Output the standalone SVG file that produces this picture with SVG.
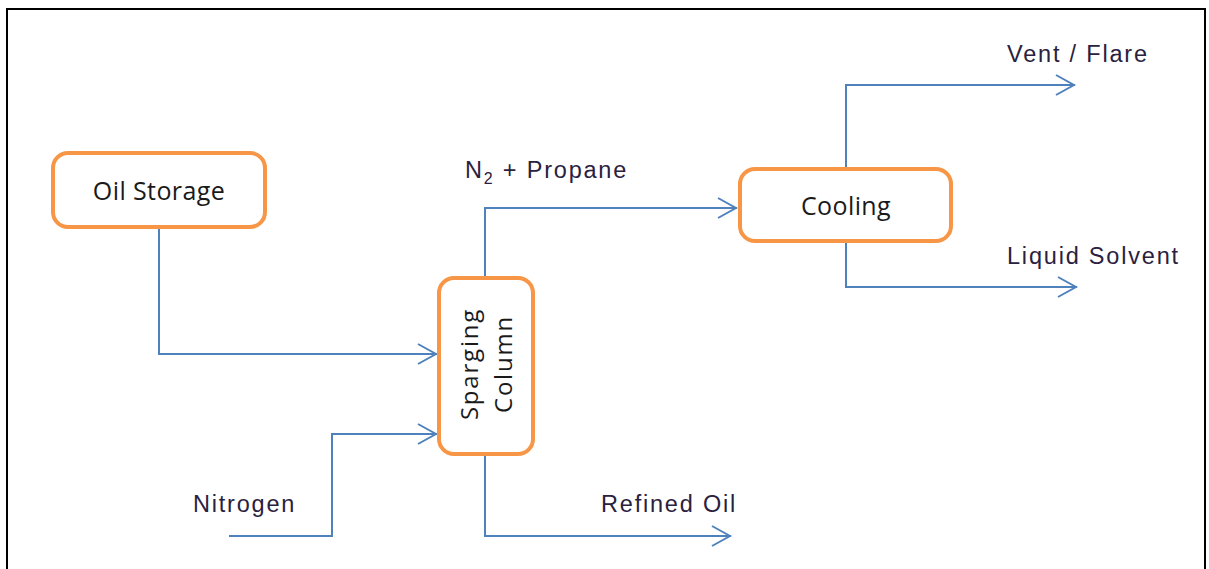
<svg xmlns="http://www.w3.org/2000/svg" width="1209" height="569" viewBox="0 0 1209 569">
<defs>
<style>
.node{fill:#fff;stroke:#F79646;stroke-width:4}
.ntext{font-family:"Open Sans","Liberation Sans",sans-serif;font-size:25px;fill:#1a1a1a;text-anchor:middle;letter-spacing:0.4px}
.vtext{font-family:"Open Sans","Liberation Sans",sans-serif;font-size:24px;fill:#1a1a1a;text-anchor:middle;letter-spacing:1.8px}
.lbl{font-family:"Liberation Sans",Arial,sans-serif;font-size:23.5px;fill:#2a2140;letter-spacing:1.8px}
.conn{fill:none;stroke:#4F81BD;stroke-width:2}
</style>
<marker id="arr" viewBox="0 0 22 22" refX="21" refY="11" markerWidth="22" markerHeight="22" markerUnits="userSpaceOnUse" orient="auto">
<path d="M2,1 L20,11 L2,21" fill="none" stroke="#4F81BD" stroke-width="2"/>
</marker>
</defs>
<rect x="0" y="0" width="1209" height="569" fill="#fff"/>
<rect x="7" y="9" width="1198" height="580" fill="#fff" stroke="#000" stroke-width="2"/>
<g id="connectors">
<path class="conn" d="M159,229 V354 H437" marker-end="url(#arr)"/>
<path class="conn" d="M229,536 H332 V434 H437" marker-end="url(#arr)"/>
<path class="conn" d="M485,276 V208 H737" marker-end="url(#arr)"/>
<path class="conn" d="M485,456 V536 H731" marker-end="url(#arr)"/>
<path class="conn" d="M846,167 V85 H1075" marker-end="url(#arr)"/>
<path class="conn" d="M846,243 V287 H1077" marker-end="url(#arr)"/>
</g>
<g id="oil-storage">
<rect class="node" x="53" y="153" width="212" height="74" rx="15"/>
<text class="ntext" x="159" y="200">Oil Storage</text>
</g>
<g id="sparging-column">
<rect class="node" x="439" y="278" width="94" height="176" rx="15"/>
<text class="vtext" transform="translate(486,364) rotate(-90)"><tspan x="0" y="-8">Sparging</tspan><tspan x="0" y="26">Column</tspan></text>
</g>
<g id="cooling">
<rect class="node" x="740" y="169" width="211" height="72" rx="15"/>
<text class="ntext" x="846" y="215">Cooling</text>
</g>
<g id="labels">
<text class="lbl" x="465" y="178">N<tspan font-size="16" dy="6">2</tspan><tspan dy="-6"> + Propane</tspan></text>
<text class="lbl" x="1007" y="62">Vent / Flare</text>
<text class="lbl" x="1007" y="264">Liquid Solvent</text>
<text class="lbl" x="193" y="512">Nitrogen</text>
<text class="lbl" x="601" y="512">Refined Oil</text>
</g>
</svg>
